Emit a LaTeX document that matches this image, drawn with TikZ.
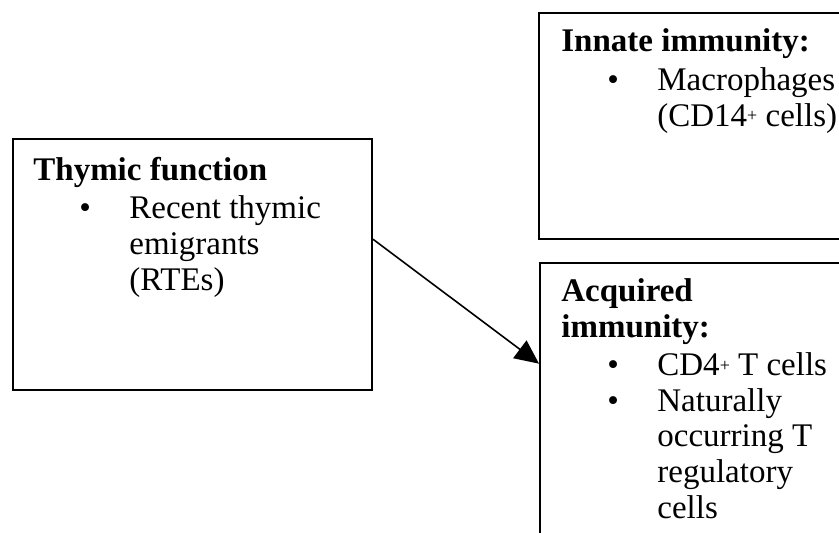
\documentclass[tikz,border=0pt]{standalone}
\usepackage{fontspec}
\setmainfont{Liberation Serif}
\usepackage{tikz}
\usetikzlibrary{arrows.meta,calc,positioning}
\definecolor{boxline}{RGB}{0,0,0}
\tikzstyle{panel} = [rectangle, draw=boxline, line width=1pt, inner sep=0pt]
\tikzstyle{listtext} = [anchor=base west, align=left, inner sep=0pt, font=\fontsize{16.5}{17.8}\selectfont]
\tikzstyle{arrow} = [line width=0.8pt, -{Triangle[length=12pt,width=11pt]}, color=boxline]
\newcommand{\bul}{\makebox[48pt][l]{\hspace*{23pt}\textbullet}}
\newcommand{\ind}{\hspace*{48pt}}
\newcommand{\plussup}{{\fontsize{9}{9}\selectfont\raisebox{0.5ex}{+}}}

\begin{document}
\begin{tikzpicture}[x=0.5pt, y=-0.5pt]
    \useasboundingbox (0,0) rectangle (839,532);
    \clip (0,0) rectangle (839,532);

    % boxes
    \node[panel, minimum width=179.5pt, minimum height=125.5pt] (thymic) at (192.5,264.5) {};
    \node[panel, minimum width=155.5pt, minimum height=113pt] (innate) at (694.5,126) {};
    \node[panel, minimum width=155pt, minimum height=148.5pt] (acquired) at (695,411.5) {};

    % box texts (placed by the baseline of their last line)
    \node[listtext] (thymictext) at (33,290) {\textbf{Thymic function}\\[1.5pt]
        \bul Recent thymic\\ \ind emigrants\\ \ind (RTEs)};
    \node[listtext] (innatetext) at (561,126) {\textbf{Innate immunity:}\\[1.5pt]
        \bul Macrophages\\ \ind (CD14\plussup\ cells)};
    \node[listtext] (acquiredtext) at (561,518) {\textbf{Acquired}\\ \textbf{immunity:}\\[1.5pt]
        \bul CD4\plussup\ T cells\\ \bul Naturally\\ \ind occurring T\\ \ind regulatory\\ \ind cells};

    \draw[arrow] ($(thymic.north east)!0.4!(thymic.south east)$) -- ($(acquired.north west)!0.34!(acquired.south west)$);
\end{tikzpicture}
\end{document}
